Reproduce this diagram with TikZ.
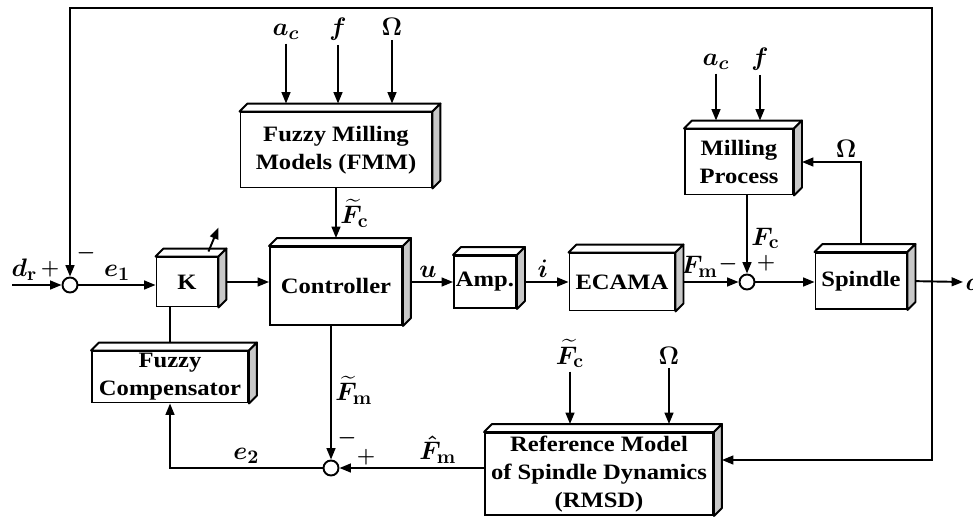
\documentclass[tikz,border=0pt]{standalone}
\usepackage{fontspec}
\setmainfont{Liberation Serif}[FakeStretch=1.12]
\usepackage{amsmath}
\usepackage{xcolor}
\usepackage{tikz}
\usetikzlibrary{arrows.meta, positioning, calc}
\definecolor{grisFace}{RGB}{200, 200, 200}

\begin{document}
\begin{tikzpicture}[x=0.02cm, y=-0.02cm,
  blk/.style={rectangle, draw, line width=1.1pt, fill=white, inner sep=0pt,
    align=center, font=\fontsize{12.5}{16}\selectfont\bfseries},
  face/.style={draw, line width=1.1pt, fill=white, line join=round},
  jct/.style={circle, draw, line width=1.1pt, fill=white,
    minimum size=0.3cm, inner sep=0pt},
  arr/.style={-{Triangle[length=6.5pt, width=5pt]}, line width=1.1pt},
  lnk/.style={line width=1.1pt},
  lbl/.style={font=\fontsize{15}{17}\selectfont\boldmath, inner sep=2pt},
  sgn/.style={font=\fontsize{11.5}{13}\selectfont\boldmath, inner sep=0pt},
]
\useasboundingbox (0,0) rectangle (973,517);

% blocks
\node[blk, minimum width=1.22cm, minimum height=0.98cm] (k)     at (187,282) {K};
\node[blk, minimum width=2.64cm, minimum height=1.56cm] (ctrl)  at (336,286) {Controller};
\node[blk, minimum width=1.24cm, minimum height=1.04cm] (amp)   at (485,282) {Amp.};
\node[blk, minimum width=2.10cm, minimum height=1.14cm] (ecama) at (622,282) {ECAMA};
\node[blk, minimum width=1.82cm, minimum height=1.12cm] (spin)  at (861,281) {Spindle};
\node[blk, minimum width=2.16cm, minimum height=1.30cm] (mp)    at (739,162)
  {Milling\\Process};
\node[blk, minimum width=3.82cm, minimum height=1.50cm] (fmm)   at (336,150)
  {Fuzzy Milling\\Models (FMM)};
\node[blk, minimum width=3.12cm, minimum height=1.02cm] (fc)    at (170,377)
  {Fuzzy\\Compensator};
\node[blk, minimum width=4.56cm, minimum height=1.64cm] (rmsd)  at (599,474)
  {Reference Model\\of Spindle Dynamics\\(RMSD)};

% summing junctions
\node[jct] (s1) at (70,285)  {};
\node[jct] (s2) at (331,468) {};
\node[jct] (s3) at (747,282) {};

\coordinate (din)  at (12,282);
\coordinate (dout) at (963,282);
\coordinate (tap)  at (932,282);
\coordinate (haut) at (932,8);

% inputs
\node[lbl, anchor=base] (fac)  at (286,36) {$a_c$};
\node[lbl, anchor=base] (ff)   at (338,36) {$f$};
\node[lbl, anchor=base] (fom)  at (392,36) {$\Omega$};
\node[lbl, anchor=base] (mpac) at (716,66) {$a_c$};
\node[lbl, anchor=base] (mpf)  at (760,66) {$f$};
\node[lbl, anchor=base] (rfc)  at (570,364) {$\widetilde{F}_{\mathbf{c}}$};
\node[lbl, anchor=base] (rom)  at (669,364) {$\Omega$};

% main chain
\draw[arr] (din |- s1) -- (s1) node[lbl, pos=0.25, above] (ldr) {$d_{\mathbf{r}}$};
\draw[arr] (s1) -- (s1 -| k.west) node[lbl, midway, above] (le1) {$e_1$};
\draw[arr] (k.east) -- (k.east -| ctrl.west);
\draw[arr] (ctrl.east |- amp) -- (amp.west) node[lbl, midway, above] (lu) {$u$};
\draw[arr] (amp.east) -- (ecama.west) node[lbl, midway, above] (li) {$i$};
\draw[arr] (ecama.east) -- (s3) node[lbl, pos=0.38, above] (lfm) {$F_{\mathbf{m}}$};
\draw[arr] (s3) -- (s3 -| spin.west);
\draw[arr] (spin.east) -- (dout) node[lbl, right, inner sep=1pt] (ld) {$d$};

% milling process
\draw[arr] (mpac) -- ($(mp.north -| mpac)+(0,-8)$);
\draw[arr] (mpf) -- ($(mp.north -| mpf)+(0,-8)$);
\draw[arr] (s3 |- mp.south) -- (s3) node[lbl, pos=0.55, right] (lfc) {$F_{\mathbf{c}}$};
\draw[arr] (spin.north) |- ($(mp.east)+(8,0)$)
  node[lbl, pos=0.5, above left] (lom) {$\Omega$};

% fuzzy models
\draw[arr] (fac) -- ($(fmm.north -| fac)+(0,-8)$);
\draw[arr] (ff) -- ($(fmm.north -| ff)+(0,-8)$);
\draw[arr] (fom) -- ($(fmm.north -| fom)+(0,-8)$);
\draw[arr] (fmm.south) -- ($(ctrl.north)+(0,-8)$)
  node[lbl, midway, right] (lfct) {$\widetilde{F}_{\mathbf{c}}$};

% reference model and compensation
\draw[arr] (rfc) -- ($(rmsd.north -| rfc)+(0,-8)$);
\draw[arr] (rom) -- ($(rmsd.north -| rom)+(0,-8)$);
\draw[arr] (s2 |- ctrl.south) -- (s2)
  node[lbl, pos=0.48, right] (lfmt) {$\widetilde{F}_{\mathbf{m}}$};
\draw[arr] (rmsd.west |- s2) -- (s2)
  node[lbl, pos=0.32, above] (lfmh) {$\hat{F}_{\mathbf{m}}$};
\draw[arr] (s2) -| (fc.south) node[lbl, pos=0.25, above] (le2) {$e_2$};
\draw[lnk] (fc.north |- k.south) -- (fc.north);

% outer feedback
\draw[arr] (tap) -- (haut) -| (s1);
\draw[arr] (tap) |- ($(rmsd.east)+(8,-14)$);

% signs
\node[sgn] (s1p) at ($(s1)+(-20,-16)$) {$+$};
\node[sgn] (s1m) at ($(s1)+(16,-32)$)  {$-$};
\node[sgn] (s2m) at ($(s2)+(16,-30)$)  {$-$};
\node[sgn] (s2p) at ($(s2)+(35,-11)$)  {$+$};
\node[sgn] (s3m) at ($(s3)+(-19,-18)$) {$-$};
\node[sgn] (s3p) at ($(s3)+(19,-19)$)  {$+$};

% depth faces
\foreach \b in {k,ctrl,amp,ecama,spin,mp,fmm,fc,rmsd}{
  \draw[face] (\b.north west) -- ++(8,-8) -- ($(\b.north east)+(8,-8)$)
    -- (\b.north east) -- cycle;
  \draw[face, fill=grisFace] (\b.north east) -- ++(8,-8)
    -- ($(\b.south east)+(8,-8)$) -- (\b.south east) -- cycle;
}

% adjustable gain
\draw[arr] ($(k.north east)+(-10,-5)$) -- ++(10,-24);
\end{tikzpicture}
\end{document}
